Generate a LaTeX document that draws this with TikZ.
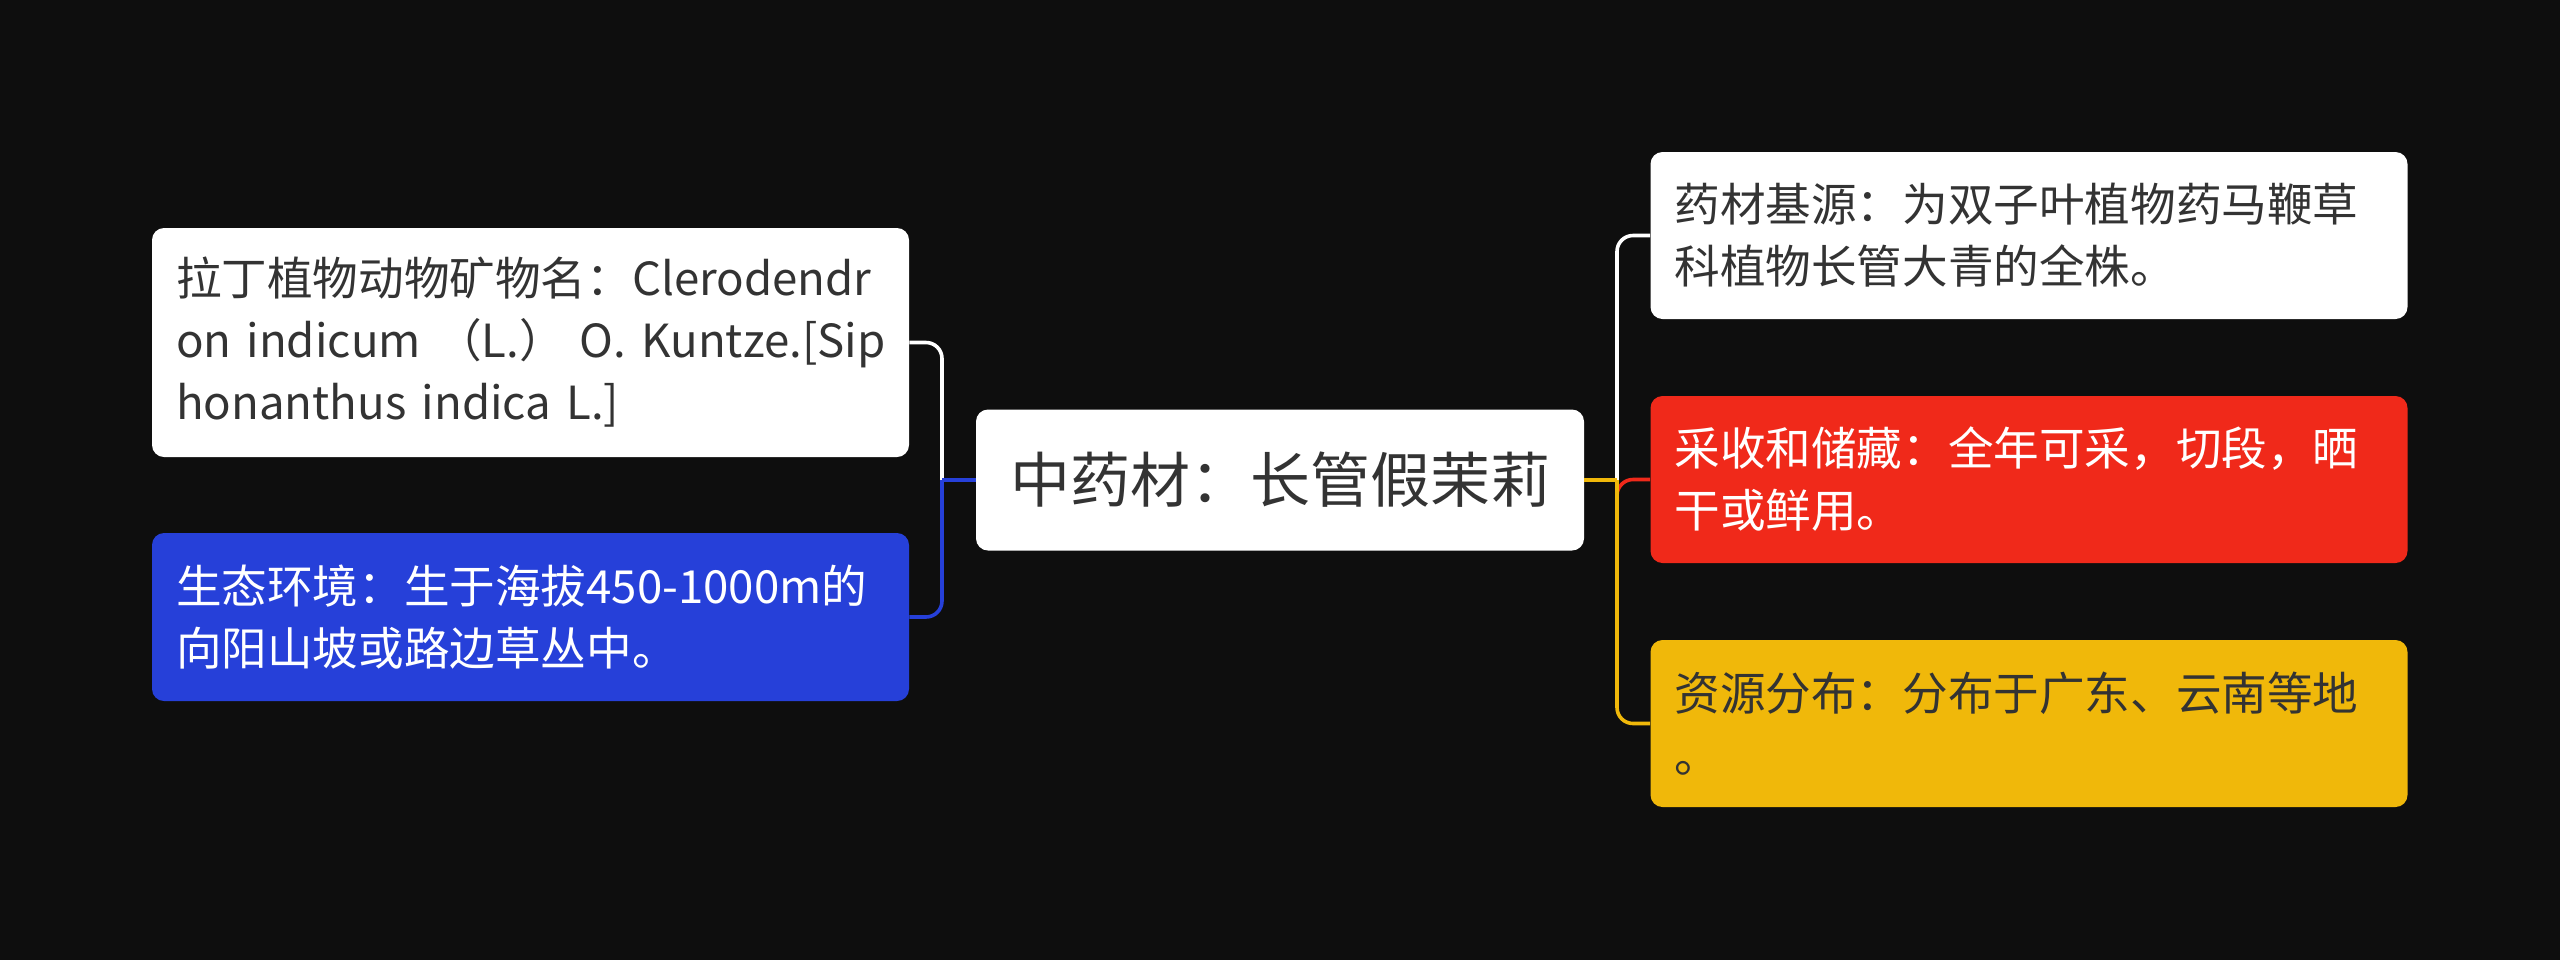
\documentclass[tikz,border=0pt]{standalone}
\usepackage{fontspec}
\setmainfont{Noto Sans CJK SC}
\definecolor{cBg}{RGB}{14,14,14}
\definecolor{cBlue}{RGB}{38,64,217}
\definecolor{cRed}{RGB}{240,41,26}
\definecolor{cYel}{RGB}{240,184,10}
\definecolor{cTxt}{RGB}{51,51,51}
\begin{document}
\begin{tikzpicture}[x=0.5pt,y=-0.5pt,
  leaf/.style={rounded corners=6pt,text width=354.5pt,inner xsep=12pt,inner ysep=0pt,
    align=left,font=\fontsize{22.8pt}{31pt}\selectfont},
  link/.style={line width=1.8pt,rounded corners=8pt}]
\fill[cBg] (0,0) rectangle (2560,960);
% centre
\node[fill=white,text=cTxt,rounded corners=6pt,minimum width=304pt,minimum height=70.5pt,
  font=\fontsize{30pt}{36pt}\selectfont] (root) at (1280,480) {中药材：长管假茉莉};
% left side
\node[leaf,fill=white,text=cTxt,minimum height=114.5pt] (latin) at (530.5,342.5)
  {\mbox{拉丁植物动物矿物名：Clerodendr}\\\mbox{on indicum （L.） O. Kuntze.[Sip}\\\mbox{honanthus indica L.]}};
\node[leaf,fill=cBlue,text=white,minimum height=84pt] (habitat) at (530.5,617)
  {生态环境：生于海拔450-1000m的\\向阳山坡或路边草丛中。};
% right side
\node[leaf,fill=white,text=cTxt,minimum height=83.5pt] (origin) at (2029,235.5)
  {药材基源：为双子叶植物药马鞭草\\科植物长管大青的全株。};
\node[leaf,fill=cRed,text=white,minimum height=83.5pt] (harvest) at (2029,479.5)
  {采收和储藏：全年可采，切段，晒\\干或鲜用。};
\node[leaf,fill=cYel,text=cTxt,minimum height=83.5pt] (range) at (2029,723.5)
  {资源分布：分布于广东、云南等地\\。};
\coordinate (lbus) at (942,480);
\coordinate (rbus) at (1617,480);
\draw[link,white] (lbus) |- (latin.east);
\draw[link,cBlue] (lbus) |- (habitat.east);
\draw[link,cBlue,rounded corners=0pt] (root.west) -- (lbus);
\draw[link,white] (rbus) |- (origin.west);
\draw[link,cRed] (rbus) |- (harvest.west);
\draw[link,cYel] (rbus) |- (range.west);
\draw[link,cYel,rounded corners=0pt] (root.east) -- (rbus);
\end{tikzpicture}
\end{document}
